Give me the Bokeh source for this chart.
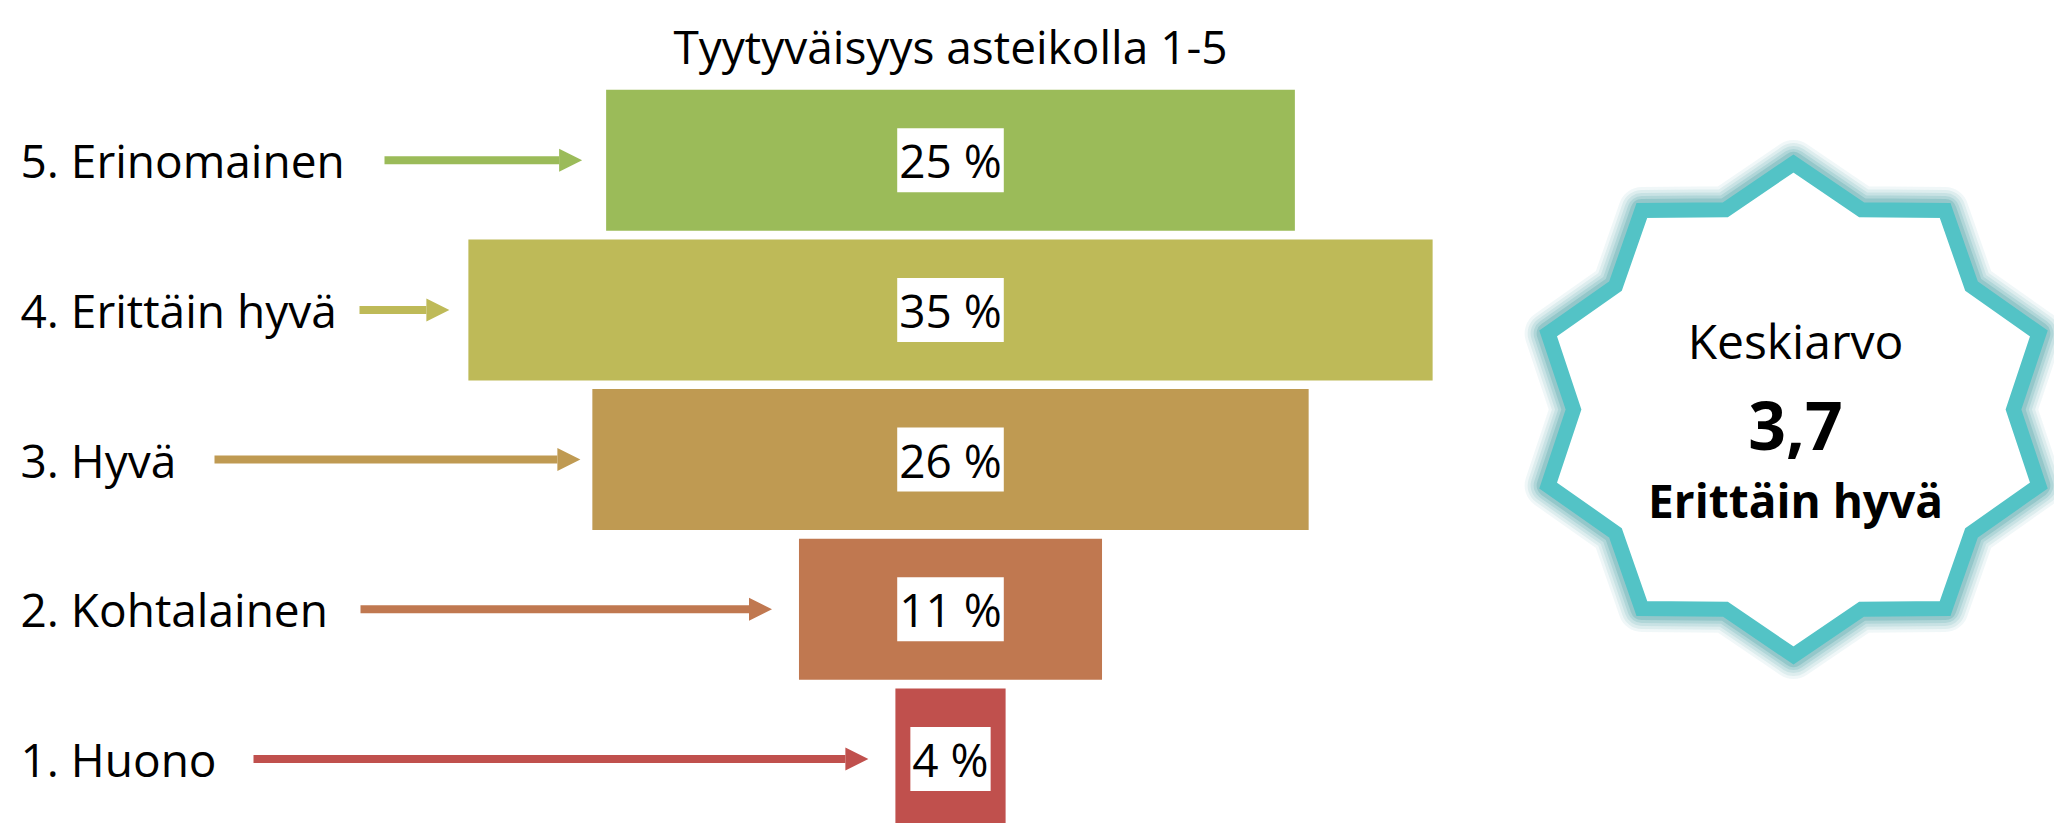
import math
from bokeh.plotting import figure
from bokeh.models import Range1d, Arrow, NormalHead, ColumnDataSource
from bokeh.core.properties import value
from bokeh.embed import file_html
from bokeh.resources import INLINE

# ---------------- data ----------------
categories = ["5. Erinomainen", "4. Erittäin hyvä", "3. Hyvä", "2. Kohtalainen", "1. Huono"]
scores = [5, 4, 3, 2, 1]
percents = [25, 35, 26, 11, 4]
title_text = "Tyytyväisyys asteikolla 1-5"
badge_title = "Keskiarvo"

# ---------------- style / layout ----------------
bar_colors = ["#9BBB59", "#BEBA58", "#BF9A52", "#C07850", "#C0504D"]
FONT = "Open Sans"
W, H = 2054, 823
OFF = 0              # page offset of the canvas
K = 27.55            # px per percent
CX_PAGE = 950        # funnel centre (page px)
PITCH = 149.7        # px per category
Y5_PAGE = 159.7      # centre of top bar (page px)
BAR_H = 0.942

x0 = -(CX_PAGE - OFF) / K
x1 = x0 + W / K
y1 = 5 + (Y5_PAGE - OFF) / PITCH
y0 = y1 - H / PITCH


def dx(px):
    return x0 + (px - OFF) / K


def dy(py):
    return y1 - (py - OFF) / PITCH


arrow_start_px = [384, 359, 214, 360, 253]
arrow_gap_px = [24, 19, 12, 27, 27]

p = figure(width=W, height=H, x_range=Range1d(x0, x1), y_range=Range1d(y0, y1),
           output_backend="svg", toolbar_location=None, min_border=0,
           outline_line_color=None, background_fill_color="white")
p.axis.visible = False
p.grid.visible = False

src = ColumnDataSource(dict(
    y=scores,
    left=[-v / 2 for v in percents],
    right=[v / 2 for v in percents],
    color=bar_colors,
    label=[f"{v} %" for v in percents],
    cat=categories,
))

p.hbar(y="y", left="left", right="right", height=BAR_H, fill_color="color",
       line_color=None, source=src)

# value labels in white boxes
p.text(x=0, y="y", text="label", source=src, text_font=value(FONT),
       text_font_size="46px", text_color="black", text_align="center",
       text_baseline="middle", background_fill_color="white",
       padding=dict(x=2, y=1))

# category labels
p.text(x=dx(20), y="y", text="cat", source=src, text_font=value(FONT),
       text_font_size="46px", text_color="black", text_align="left",
       text_baseline="middle")

# arrows
for i, (s, v, c) in enumerate(zip(scores, percents, bar_colors)):
    p.add_layout(Arrow(end=NormalHead(size=23, fill_color=c, line_color=c, line_width=0),
                       x_start=dx(arrow_start_px[i]), y_start=s,
                       x_end=-v / 2 - arrow_gap_px[i] / K, y_end=s,
                       line_color=c, line_width=8))

# title
p.text(x=[0], y=[dy(45)], text=[title_text], text_font=value(FONT),
       text_font_size="46px", text_color="black", text_align="center",
       text_baseline="alphabetic")

# ---------------- badge (10-point star) ----------------
mean = sum(s * v for s, v in zip(scores, percents)) / sum(percents)
mean_text = f"{mean:.1f}".replace(".", ",")
mean_cat = categories[scores.index(round(mean))].split(". ", 1)[1]

SCX, SCY = 1793, 409
RO_X, RO_Y = 258, 246
RI_X, RI_Y = 220, 210
sx, sy = [], []
for k in range(20):
    ang = math.radians(90 + 18 * k)
    if k % 2 == 0:
        rx, ry = RO_X, RO_Y
    else:
        rx, ry = RI_X, RI_Y
    sx.append(dx(SCX + rx * math.cos(ang)))
    sy.append(dy(SCY - ry * math.sin(ang)))

for w, a in [(47, 0.08), (41, 0.10), (35, 0.13), (29, 0.17), (23, 0.25)]:
    p.patch(sx, sy, fill_color=None, line_color="#3E9DA1", line_alpha=a,
            line_width=w, line_join="round")
p.patch(sx, sy, fill_color="white", line_color="#53C3C6", line_width=15,
        line_join="miter")

p.text(x=[dx(1795)], y=[dy(340)], text=[badge_title], text_font=value(FONT),
       text_font_size="48px", text_color="black", text_align="center",
       text_baseline="alphabetic")
p.text(x=[dx(1795)], y=[dy(425)], text=[mean_text], text_font=value(FONT),
       text_font_size="66px", text_font_style="bold", text_color="black",
       text_align="center", text_baseline="alphabetic")
p.text(x=[dx(1795)], y=[dy(499)], text=[mean_cat], text_font=value(FONT),
       text_font_size="46px", text_font_style="bold", text_color="black",
       text_align="center", text_baseline="alphabetic")

open("out.html", "w").write(file_html(p, INLINE))
